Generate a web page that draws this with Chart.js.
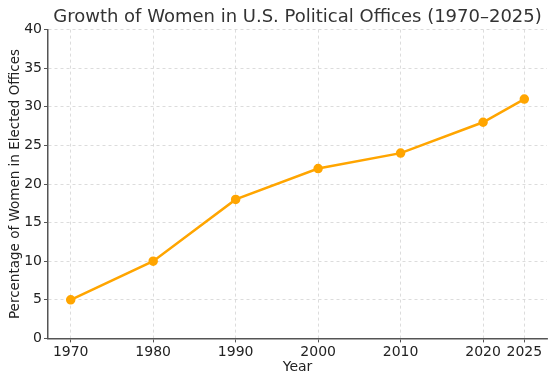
<!DOCTYPE html>
<html>
<head>
<meta charset="utf-8">
<script src="https://cdn.jsdelivr.net/npm/chart.js@4.4.0/dist/chart.umd.min.js"></script>
<style>
html,body{margin:0;padding:0;background:#fff;}
#wrap{width:555px;height:382px;position:relative;}
</style>
</head>
<body>
<div id="wrap"><canvas id="c" width="555" height="382"></canvas></div>
<script>
const years = [1970, 1980, 1990, 2000, 2010, 2020, 2025];
const percentWomen = [5, 10, 18, 22, 24, 28, 31];
const xTickValues = [1970, 1980, 1990, 2000, 2010, 2020, 2025];
const yTickValues = [0, 5, 10, 15, 20, 25, 30, 35, 40];

const font = "'DejaVu Sans', sans-serif";
const points = years.map((y, i) => ({x: y, y: percentWomen[i]}));

new Chart(document.getElementById('c'), {
  type: 'line',
  data: {
    datasets: [{
      data: points,
      borderColor: '#FFA500',
      backgroundColor: '#FFA500',
      borderWidth: 2.5,
      pointRadius: 3.5,
      pointHoverRadius: 3.5,
      tension: 0,
      fill: false
    }]
  },
  options: {
    responsive: false,
    animation: false,
    devicePixelRatio: 1,
    layout: {padding: {left: 7, right: 8, top: 7, bottom: 6}},
    plugins: {
      legend: {display: false},
      tooltip: {enabled: false},
      title: {
        display: true,
        fullSize: false,
        text: 'Growth of Women in U.S. Political Offices (1970–2025)',
        color: '#333333',
        font: {family: font, size: 18, weight: 'normal'},
        padding: {top: 0, bottom: 1}
      }
    },
    scales: {
      x: {
        type: 'linear',
        min: 1967.25,
        max: 2027.75,
        afterBuildTicks: (axis) => { axis.ticks = xTickValues.map(v => ({value: v})); },
        ticks: {
          color: '#222222',
          font: {family: font, size: 14},
          padding: 2,
          maxRotation: 0,
          autoSkip: false,
          callback: (v) => String(v)
        },
        grid: {
          color: '#d4d4d4',
          lineWidth: 0.8,
          tickColor: '#555555',
          tickLength: 4,
          tickWidth: 1
        },
        border: {display: true, color: '#555555', width: 1.5, dash: [3, 3]},
        title: {
          display: true,
          text: 'Year',
          color: '#222222',
          font: {family: font, size: 14},
          padding: {top: -4, bottom: 0}
        }
      },
      y: {
        type: 'linear',
        min: 0,
        max: 40,
        afterBuildTicks: (axis) => { axis.ticks = yTickValues.map(v => ({value: v})); },
        ticks: {
          color: '#222222',
          font: {family: font, size: 14},
          padding: 2
        },
        grid: {
          color: '#d4d4d4',
          lineWidth: 0.8,
          tickColor: '#555555',
          tickLength: 4,
          tickWidth: 1
        },
        border: {display: true, color: '#555555', width: 1.5, dash: [3, 3]},
        title: {
          display: true,
          text: 'Percentage of Women in Elected Offices',
          color: '#222222',
          font: {family: font, size: 13.5},
          padding: {top: 0, bottom: -1}
        }
      }
    }
  }
});
</script>
</body>
</html>
